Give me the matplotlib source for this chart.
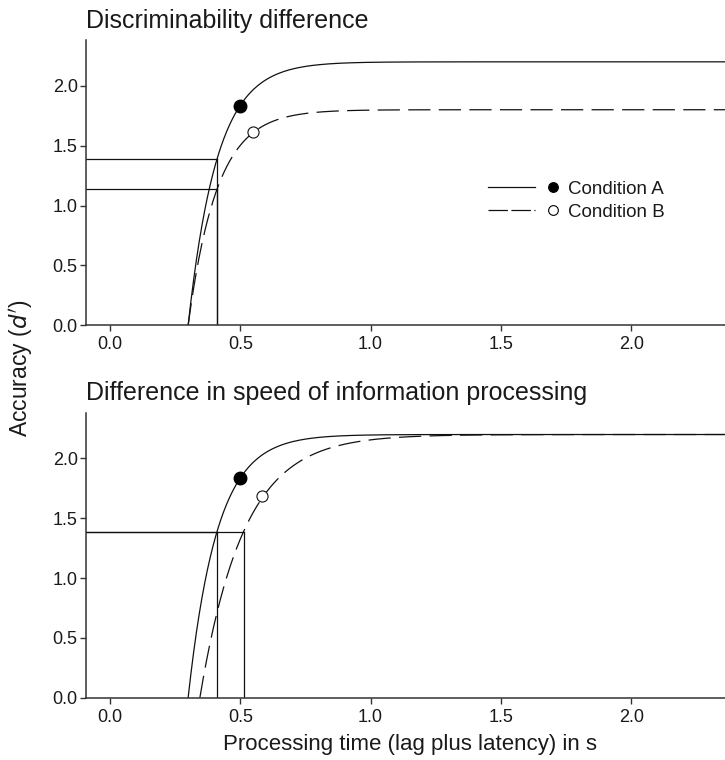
import numpy as np
import matplotlib
matplotlib.use("Agg")
import matplotlib.pyplot as plt
from matplotlib.lines import Line2D
from matplotlib.legend_handler import HandlerBase

plt.rcParams['font.family'] = ['Liberation Sans', 'DejaVu Sans']
plt.rcParams['lines.scale_dashes'] = False

# ---- data ----
panel_titles = ["Discriminability difference",
                "Difference in speed of information processing"]
# SAT exponential parameters: asymptote (lambda), rate (beta), intercept (delta)
asym_A = [2.2, 2.2]
rate_A = [9.0, 9.0]
icpt_A = [0.30, 0.30]
asym_B = [1.8, 2.2]
rate_B = [9.0, 5.95]
icpt_B = [0.30, 0.345]
# observed points
pt_A_x = [0.50, 0.50]
pt_A_y = [1.835, 1.835]
pt_B_x = [0.55, 0.585]
pt_B_y = [1.61, 1.69]
# reference (drop) lines: time -> accuracy levels
ref_times = [[0.41, 0.41], [0.41, 0.513]]
ref_levels = [[1.385, 1.135], [1.385, 1.385]]
x_ticks = [0.0, 0.5, 1.0, 1.5, 2.0]
y_ticks = [0.0, 0.5, 1.0, 1.5, 2.0]
legend_labels = ["Condition A", "Condition B"]

XMIN, XMAX = -0.092, 2.36
YMAX = 2.38


def sat(t, lam, beta, delta):
    return np.where(t >= delta, lam * (1 - np.exp(-beta * (t - delta))), np.nan)


fig = plt.figure(figsize=(7.25, 7.6), dpi=100)
ax_top = fig.add_axes([0.1186, 0.572, 0.8814, 0.375])
ax_bot = fig.add_axes([0.1186, 0.082, 0.8814, 0.3746])
axes = [ax_top, ax_bot]

dash = (0, (16, 6))
line_col = '#111111'
spine_col = '#333333'
txt_col = '#1a1a1a'

for i, ax in enumerate(axes):
    tA = np.linspace(icpt_A[i], XMAX + 0.05, 800)
    tB = np.linspace(icpt_B[i], XMAX + 0.05, 800)
    ax.plot(tA, sat(tA, asym_A[i], rate_A[i], icpt_A[i]), color=line_col, lw=0.9)
    ax.plot(tB, sat(tB, asym_B[i], rate_B[i], icpt_B[i]), color=line_col, lw=0.9,
            linestyle=dash)
    # reference lines
    for t, lv in zip(ref_times[i], ref_levels[i]):
        ax.plot([XMIN, t], [lv, lv], color=line_col, lw=0.9)
        ax.plot([t, t], [0, lv], color=line_col, lw=0.9)
    ax.plot([pt_A_x[i]], [pt_A_y[i]], 'o', ms=9, mfc='black', mec='black', zorder=5)
    ax.plot([pt_B_x[i]], [pt_B_y[i]], 'o', ms=8, mfc='white', mec=line_col,
            mew=0.8, zorder=5)

    ax.set_xlim(XMIN, XMAX)
    ax.set_ylim(0, YMAX)
    ax.set_xticks(x_ticks)
    ax.set_yticks(y_ticks)
    ax.set_xticklabels([f"{v:.1f}" for v in x_ticks])
    ax.set_yticklabels([f"{v:.1f}" for v in y_ticks])
    for s in ['top', 'right']:
        ax.spines[s].set_visible(False)
    for s in ['left', 'bottom']:
        ax.spines[s].set_color(spine_col)
        ax.spines[s].set_linewidth(1.1)
    ax.tick_params(axis='y', direction='out', length=4, width=1, color=spine_col,
                   labelsize=13, pad=2, labelcolor=txt_col)
    ax.tick_params(axis='x', direction='out', length=4, width=1, color=spine_col,
                   labelsize=13, pad=4, labelcolor=txt_col)
    ax.set_title(panel_titles[i], loc='left', fontsize=18, pad=9, color=txt_col)


class LineMarkerHandler(HandlerBase):
    def __init__(self, ls, filled):
        super().__init__()
        self.ls = ls
        self.filled = filled

    def create_artists(self, legend, orig_handle, xdescent, ydescent, width,
                       height, fontsize, trans):
        y = height / 2 - ydescent
        x0 = -xdescent
        ln = Line2D([x0, x0 + 0.63 * width], [y, y], color=line_col, lw=0.9,
                    linestyle=self.ls)
        mk = Line2D([x0 + 0.87 * width], [y], marker='o', ms=7,
                    mfc='black' if self.filled else 'white', mec='black',
                    mew=0.8, linestyle='none')
        ln.set_transform(trans)
        mk.set_transform(trans)
        return [ln, mk]


hA = Line2D([], [])
hB = Line2D([], [])
ax_top.legend([hA, hB], legend_labels,
              handler_map={hA: LineMarkerHandler('-', True),
                           hB: LineMarkerHandler((0, (14, 2.5)), False)},
              loc='center left', bbox_to_anchor=(0.629, 0.437), frameon=False,
              fontsize=13.5, handlelength=4.0, handletextpad=0.25, borderpad=0,
              borderaxespad=0, labelspacing=0.3, labelcolor=txt_col)

fig.text(0.030, 0.516, "Accuracy ($\\it{d'}$)", rotation=90, va='center', ha='center',
         fontsize=16.5, color=txt_col)
fig.text(0.565, 0.020, "Processing time (lag plus latency) in s", ha='center',
         va='center', fontsize=16, color=txt_col)

fig.savefig("out.png", dpi=100)
